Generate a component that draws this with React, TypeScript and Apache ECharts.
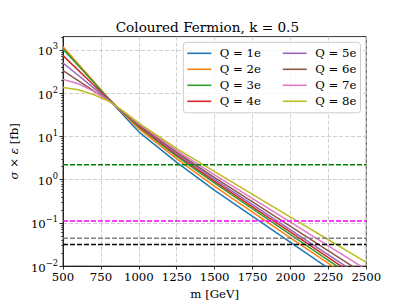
import React, { useEffect, useRef } from 'react';
import * as echarts from 'echarts';

const FONT = 'DejaVu Serif';

// masses in GeV
const masses = [500, 600, 700, 800, 900, 1000, 1250, 1500, 1750, 2000, 2250, 2500];

// sigma x epsilon [fb] per charge
const q1e = [1122, 453, 183, 73.8, 30.5, 12.8, 2.51, 0.562, 0.141, 0.0355, 0.0089, 0.00224];
const q2e = [1189, 475, 191, 75.9, 33.1, 15.1, 3.02, 0.70, 0.178, 0.0452, 0.0115, 0.00292];
const q3e = [1047, 435, 181, 75.0, 34.4, 16.6, 3.47, 0.832, 0.211, 0.0537, 0.0136, 0.00347];
const q4e = [741, 342, 157, 72.4, 35.2, 17.4, 3.72, 0.912, 0.236, 0.061, 0.0157, 0.00407];
const q5e = [501, 260, 135, 70.0, 35.8, 18.2, 3.98, 1.0, 0.263, 0.0692, 0.0182, 0.00479];
const q6e = [331, 195, 115, 67.6, 36.3, 18.6, 4.27, 1.12, 0.305, 0.0832, 0.0226, 0.00617];
const q7e = [209, 166, 112, 67.6, 37.2, 19.5, 4.68, 1.29, 0.365, 0.1035, 0.0293, 0.00832];
const q8e = [135, 120, 93.3, 66.1, 38.0, 20.4, 5.25, 1.53, 0.457, 0.136, 0.0407, 0.0122];

const seriesNames = ['Q = 1e', 'Q = 2e', 'Q = 3e', 'Q = 4e', 'Q = 5e', 'Q = 6e', 'Q = 7e', 'Q = 8e'];
const seriesValues = [q1e, q2e, q3e, q4e, q5e, q6e, q7e, q8e];
const seriesColors = ['#1f77b4', '#ff7f0e', '#2ca02c', '#d62728', '#9467bd', '#8c564b', '#e377c2', '#bcbd22'];

// horizontal limit lines
const refValues = [2.21, 0.111, 0.0442, 0.0315];
const refColors = ['#008000', '#ff00ff', '#808080', '#000000'];

const xMin = 500;
const xMax = 2500;
const yMin = 0.01;
const yMax = 2040;
const yMajorTicks = [0.01, 0.1, 1, 10, 100, 1000];
const yMinorTicks: number[] = [];
for (let e = -2; e <= 3; e++) {
  for (let k = 2; k <= 9; k++) {
    const v = k * Math.pow(10, e);
    if (v <= yMax) yMinorTicks.push(v);
  }
}

const supMap: Record<string, string> = { '-': '\u2212' };

export default function App() {
  const ref = useRef<HTMLDivElement>(null);
  useEffect(() => {
    if (!ref.current) return;
    const chart = echarts.init(ref.current, undefined, { renderer: 'svg' });

    const lineSeries = seriesNames.map((name, i) => ({
      type: 'line',
      name,
      data: masses.map((m, j) => [m, seriesValues[i][j]]),
      showSymbol: false,
      symbol: 'none',
      color: seriesColors[i],
      lineStyle: { width: 1.5, color: seriesColors[i] },
      emphasis: { disabled: true },
      silent: true,
      z: 2,
    }));

    const refSeries = refValues.map((v, i) => ({
      type: 'line',
      data: [[xMin, v], [xMax, v]],
      showSymbol: false,
      symbol: 'none',
      color: refColors[i],
      lineStyle: { width: 1.5, color: refColors[i], type: [5, 2] },
      emphasis: { disabled: true },
      silent: true,
      z: 3,
    }));

    const labelText = { fontFamily: FONT, fontSize: 11.7, color: '#000' };

    const legendCommon = {
      orient: 'vertical',
      top: 47.3,
      itemGap: 4,
      itemWidth: 24,
      itemHeight: 1.6,
      icon: 'rect',
      padding: 0,
      selectedMode: false,
      z: 20,
      textStyle: { ...labelText, lineHeight: 12, padding: [0, 0, 0, 3.5] },
    };

    chart.setOption({
      animation: false,
      textStyle: { fontFamily: FONT },
      title: {
        text: 'Coloured Fermion, k = 0.5',
        left: 115.7,
        top: 18.8,
        padding: 0,
        textStyle: { fontFamily: FONT, fontSize: 13.6, fontWeight: 'normal', color: '#000', lineHeight: 16 },
      },
      grid: {
        left: 51,
        right: 40.7,
        top: 36.6,
        bottom: 33.5,
        show: true,
        borderColor: '#000',
        borderWidth: 0.8,
        backgroundColor: 'transparent',
      },
      legend: [
        { ...legendCommon, left: 187.3, data: seriesNames.slice(0, 4) },
        { ...legendCommon, left: 282.7, data: seriesNames.slice(4) },
      ],
      graphic: [
        {
          type: 'rect',
          shape: { x: 183.3, y: 42.3, width: 177.2, height: 70.5, r: 3 },
          style: { fill: 'rgba(255,255,255,0.8)', stroke: '#cccccc', lineWidth: 1 },
          z: 10,
          silent: true,
        },
      ],
      xAxis: {
        type: 'value',
        min: xMin,
        max: xMax,
        interval: 250,
        axisLine: { show: true, onZero: false, lineStyle: { color: '#000', width: 0.8 } },
        axisTick: { show: true, inside: false, length: 3.5, lineStyle: { color: '#000', width: 0.8 } },
        axisLabel: { ...labelText, margin: 5, formatter: (v: number) => String(v) },
        splitLine: { show: true, lineStyle: { color: '#c4c4c4', width: 0.8, type: [4, 2] } },
        name: 'm [GeV]',
        nameLocation: 'middle',
        nameGap: 19,
        nameTextStyle: { ...labelText },
      },
      yAxis: [
        {
          type: 'log',
          logBase: 10,
          min: yMin,
          max: yMax,
          axisLine: { show: true, onZero: false, lineStyle: { color: '#000', width: 0.8 } },
          axisTick: {
            show: true,
            inside: false,
            length: 3.5,
            customValues: yMajorTicks,
            lineStyle: { color: '#000', width: 0.8 },
          },
          axisLabel: {
            margin: 5,
            customValues: yMajorTicks,
            formatter: (v: number) => {
              const lg = Math.log10(v);
              const e = Math.round(lg);
              if (Math.abs(lg - e) > 1e-6) return '';
              const s = String(e).split('').map((c) => supMap[c] || c).join('');
              return `{b|10}{s|${s}}`;
            },
            rich: {
              b: { fontFamily: FONT, fontSize: 11.7, color: '#000', lineHeight: 15, verticalAlign: 'bottom' },
              s: { fontFamily: FONT, fontSize: 8.3, color: '#000', lineHeight: 10, verticalAlign: 'top' },
            },
          },
          splitLine: { show: true, lineStyle: { color: '#c4c4c4', width: 0.8, type: [4, 2] } },
          name: '{i|σ} × {i|ε} [fb]',
          nameLocation: 'middle',
          nameGap: 38,
          nameRotate: 90,
          nameTextStyle: {
            ...labelText,
            rich: {
              i: { fontFamily: FONT, fontSize: 11.7, color: '#000', fontStyle: 'italic' },
            },
          },
        },
        {
          type: 'log',
          logBase: 10,
          min: yMin,
          max: yMax,
          position: 'left',
          axisLine: { show: false },
          axisTick: {
            show: true,
            inside: false,
            length: 2,
            customValues: yMinorTicks,
            lineStyle: { color: '#000', width: 0.6 },
          },
          axisLabel: { show: false },
          splitLine: { show: false },
        },
      ],
      series: [...lineSeries, ...refSeries],
    });

    return () => chart.dispose();
  }, []);

  return (
    <div
      ref={ref}
      style={{ position: 'fixed', left: 0, top: 0, width: 407, height: 305, background: '#fff' }}
    />
  );
}
